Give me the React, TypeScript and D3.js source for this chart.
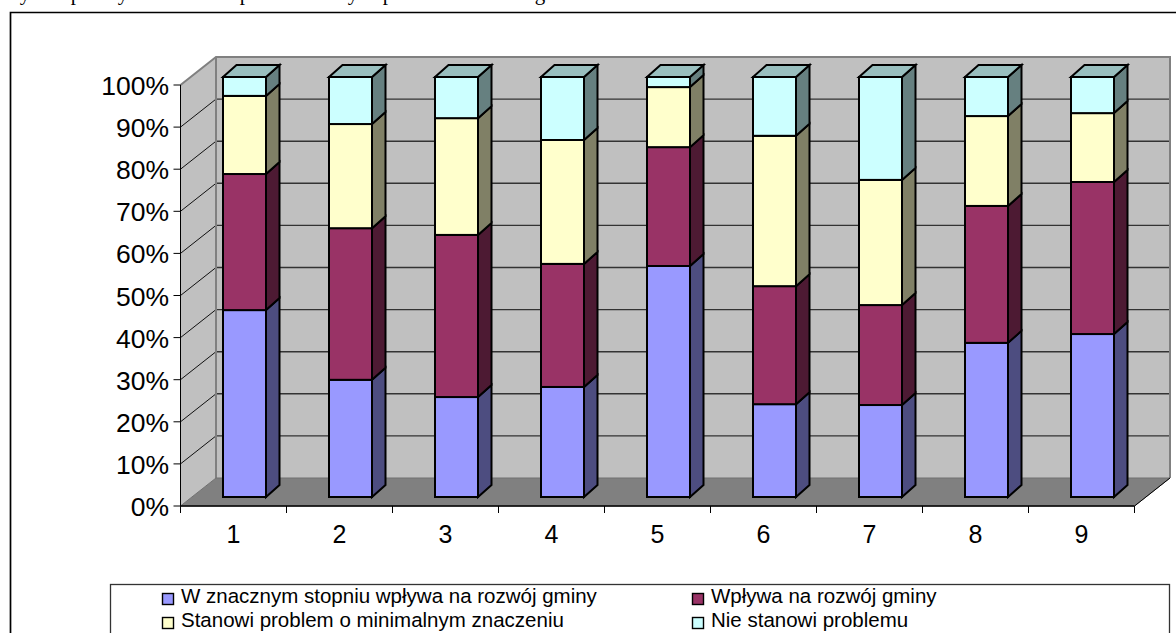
import React from "react";
import * as d3 from "d3";

const categories = ["1", "2", "3", "4", "5", "6", "7", "8", "9"];
const seriesNames = [
  "W znacznym stopniu wpływa na rozwój gminy",
  "Wpływa na rozwój gminy",
  "Stanowi problem o minimalnym znaczeniu",
  "Nie stanowi problemu",
];
const strongImpact = [44.5, 27.9, 23.8, 26.2, 55.0, 22.1, 21.9, 36.7, 38.8];
const impact = [32.4, 36.1, 38.6, 29.3, 28.3, 28.1, 23.8, 32.6, 36.2];
const minorProblem = [18.6, 24.8, 27.8, 29.5, 14.3, 35.8, 29.8, 21.4, 16.4];
const noProblem = [4.5, 11.2, 9.8, 15.0, 2.4, 14.0, 24.5, 9.3, 8.6];
const seriesValues = [strongImpact, impact, minorProblem, noProblem];
const yTicks = [0, 10, 20, 30, 40, 50, 60, 70, 80, 90, 100];
const clippedGlyphs: [string, number][] = [["y", 25], ["p", 76], ["y", 123], ["p", 245], ["y", 353], ["p", 388], ["g", 540]];

const frontColors = ["#9999FF", "#993366", "#FFFFCC", "#CCFFFF"];
const sideColors = ["#4D4D80", "#4D1A33", "#808066", "#668080"];
const topColor = "#99BFBF";

const FONT = "'Liberation Sans', Arial, sans-serif";
const x0 = 180.5, x1 = 1134.5, y0 = 506, y100 = 85;
const wallDx = 35.5, wallDy = -28;
const barDx = 13.5, barDy = -12;
const barInset = 42.5, barW = 43;

const xScale = d3.scaleBand<string>().domain(categories).range([x0, x1]);
const yScale = d3.scaleLinear().domain([0, 100]).range([y0, y100]);
const barY = d3.scaleLinear().domain([0, 100]).range([497, 77]);

const rows = categories.map((c, i) => {
  const r: Record<string, number | string> = { c };
  seriesNames.forEach((s, k) => (r[s] = seriesValues[k][i]));
  return r;
});
const stacked = d3.stack<any>().keys(seriesNames)(rows);

const poly = (pts: [number, number][]) => d3.line()(pts)! + "Z";

export default function App() {
  const yBottomBack = y0 + wallDy;
  const yTopBack = y100 + wallDy;
  return (
    <svg width={1176} height={633} viewBox="0 0 1176 633" style={{ position: "absolute", left: 0, top: 0, background: "#fff" }}>
      {clippedGlyphs.map(([g, x], i) => (
        <text key={i} x={x} y={0} textAnchor="middle" fontFamily="'Liberation Serif', serif" fontSize={21} fill="#000">{g}</text>
      ))}
      {/* outer frame */}
      <path d="M10.5 640V12.5H1176" fill="none" stroke="#000" strokeWidth={1.7} />

      {/* walls and floor */}
      <path d={poly([[x0 + wallDx, yTopBack], [x1 + wallDx, yTopBack], [x1 + wallDx, yBottomBack], [x0 + wallDx, yBottomBack]])} fill="#C0C0C0" />
      <path d={poly([[x0, y100], [x0 + wallDx, yTopBack], [x0 + wallDx, yBottomBack], [x0, y0]])} fill="#C0C0C0" />
      {yTicks.filter((t) => t > 0 && t < 100).map((t) => (
        <g key={t}>
          <line x1={x0} x2={x0 + wallDx} y1={yScale(t)} y2={yScale(t) + wallDy} stroke="#111" strokeWidth={1} />
          <line x1={x0 + wallDx} x2={x1 + wallDx} y1={yScale(t) + wallDy} y2={yScale(t) + wallDy} stroke="#333" strokeWidth={1.4} />
        </g>
      ))}
      <path d={`M${x0} ${y100}L${x0 + wallDx} ${yTopBack}H${x1 + wallDx}V${yBottomBack}M${x0 + wallDx} ${yTopBack}V${yBottomBack}`} fill="none" stroke="#808080" strokeWidth={2} />
      <path d={poly([[x0, y0], [x0 + wallDx, yBottomBack], [x1 + wallDx, yBottomBack], [x1, y0]])} fill="#808080" stroke="#707070" strokeWidth={1} />
      <line x1={x1} x2={x1 + wallDx} y1={y0} y2={yBottomBack} stroke="#000" strokeWidth={1} />

      {/* axes */}
      <line x1={x0} x2={x0} y1={y100} y2={y0} stroke="#000" strokeWidth={1} />
      <line x1={x0} x2={x1} y1={y0} y2={y0} stroke="#000" strokeWidth={1.5} />
      {yTicks.map((t) => (
        <g key={t}>
          <line x1={x0 - 7} x2={x0} y1={yScale(t)} y2={yScale(t)} stroke="#000" strokeWidth={1} />
          <text x={x0 - 11.5} y={yScale(t) + 10} textAnchor="end" fontFamily={FONT} fontSize={26.5} fill="#000">{t}%</text>
        </g>
      ))}
      {[...categories.map((c) => xScale(c)!), x1].map((x, i) => (
        <line key={i} x1={x} x2={x} y1={y0} y2={y0 + 7} stroke="#000" strokeWidth={1} />
      ))}
      {categories.map((c) => (
        <text key={c} x={xScale(c)! + xScale.bandwidth() / 2} y={543} textAnchor="middle" fontFamily={FONT} fontSize={25} fill="#000">{c}</text>
      ))}

      {/* bars */}
      {categories.map((c, i) => {
        const x = xScale(c)! + barInset;
        return (
          <g key={c} stroke="#000" strokeWidth={2} strokeLinejoin="miter">
            {stacked.map((s, k) => {
              const a = barY(s[i][0]), b = barY(s[i][1]);
              return (
                <g key={k}>
                  <path d={poly([[x + barW, b], [x + barW + barDx, b + barDy], [x + barW + barDx, a + barDy], [x + barW, a]])} fill={sideColors[k]} />
                  <rect x={x} y={b} width={barW} height={a - b} fill={frontColors[k]} />
                </g>
              );
            })}
            <path d={poly([[x, barY(100)], [x + barDx, barY(100) + barDy], [x + barW + barDx, barY(100) + barDy], [x + barW, barY(100)]])} fill={topColor} />
          </g>
        );
      })}

      {/* legend */}
      <rect x={110.5} y={584.5} width={1059} height={80} fill="#fff" stroke="#333" strokeWidth={1.3} />
      {seriesNames.map((s, k) => {
        const lx = k % 2 === 0 ? 162 : 692;
        const ly = k < 2 ? 593 : 617;
        return (
          <g key={s}>
            <rect x={lx + 0.5} y={ly + 0.5} width={11} height={11} fill={frontColors[k]} stroke="#000" strokeWidth={1.4} />
            <text x={lx + 19} y={ly + 10} fontFamily={FONT} fontSize={20.5} fill="#000">{s}</text>
          </g>
        );
      })}
    </svg>
  );
}
